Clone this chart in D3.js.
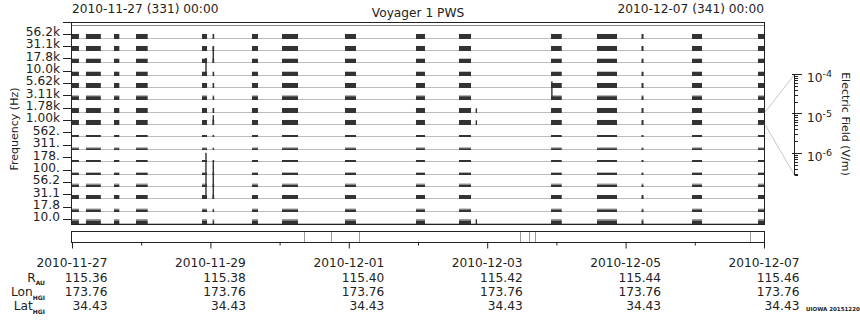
<!DOCTYPE html>
<html>
<head>
<meta charset="utf-8">
<script src="https://cdn.jsdelivr.net/npm/d3@7"></script>
<style>
  body { margin: 0; background: #fff; }
  svg { display: block; font-family: "DejaVu Sans", sans-serif; }
</style>
</head>
<body>
<svg id="chart" width="860" height="320"></svg>
<script>
// ---- data ----
const startTime = "2010-11-27T00:00Z";
const endTime = "2010-12-07T00:00Z";

// spectrum analyzer channels, top to bottom
const channels = ["56.2k", "31.1k", "17.8k", "10.0k", "5.62k", "3.11k", "1.78k", "1.00k",
  "562.", "311.", "178.", "100.", "56.2", "31.1", "17.8", "10.0"];
// typical field level per channel (V/m) and the lighter upper envelope
const chanLevel = [3.1e-6, 3.1e-6, 2.2e-6, 2.2e-6, 3.1e-6, 1.7e-6, 3.1e-6, 3.1e-6,
  7.4e-7, 6.5e-7, 7.4e-7, 7.4e-7, 8.6e-7, 1.9e-6, 9.4e-7, 1.5e-6];
const chanPeak = [3.1e-6, 3.1e-6, 2.2e-6, 2.2e-6, 3.1e-6, 2.7e-6, 3.1e-6, 3.1e-6,
  7.4e-7, 1.04e-6, 7.4e-7, 1.04e-6, 1.5e-6, 1.9e-6, 1.5e-6, 3.1e-6];

// tracking passes with data
const passStart = ["2010-11-27T00:00Z", "2010-11-27T04:50Z", "2010-11-27T14:34Z", "2010-11-27T22:12Z",
  "2010-11-28T21:05Z", "2010-11-29T00:45Z", "2010-11-29T14:25Z", "2010-11-30T00:50Z",
  "2010-11-30T22:41Z", "2010-12-01T23:18Z", "2010-12-02T14:13Z", "2010-12-03T22:08Z",
  "2010-12-04T14:05Z", "2010-12-05T05:31Z", "2010-12-05T23:02Z", "2010-12-06T21:55Z"];
const passEnd = ["2010-11-27T02:24Z", "2010-11-27T10:00Z", "2010-11-27T16:25Z", "2010-11-28T02:15Z",
  "2010-11-28T22:50Z", "2010-11-29T01:15Z", "2010-11-29T16:30Z", "2010-11-30T06:23Z",
  "2010-12-01T02:30Z", "2010-12-02T02:25Z", "2010-12-02T18:23Z", "2010-12-04T01:51Z",
  "2010-12-04T21:01Z", "2010-12-05T06:13Z", "2010-12-06T02:30Z", "2010-12-07T00:00Z"];

// single samples standing out
const spikeTime = ["2010-11-28T22:28Z", "2010-11-28T22:28Z", "2010-11-29T01:00Z", "2010-11-29T01:00Z",
  "2010-11-29T01:00Z", "2010-11-29T01:00Z", "2010-12-02T20:14Z", "2010-12-02T20:14Z",
  "2010-12-02T20:14Z", "2010-12-03T22:26Z"];
const spikeChan = [3, 13, 2, 7, 12, 13, 6, 7, 15, 5];
const spikeValue = [1.5e-3, 9e2, 5.6e-4, 2.9e-5, 4e-2, 8.5e-5, 2.7e-6, 2.7e-6, 2.7e-6, 2e-3];

// mode markers in the lower strip
const modeTimes = ["2010-11-30T08:28Z", "2010-11-30T18:10Z", "2010-12-01T03:53Z",
  "2010-12-03T11:28Z", "2010-12-03T14:36Z", "2010-12-03T16:41Z", "2010-12-06T19:24Z"];

// ephemeris
const ephemDates = ["2010-11-27", "2010-11-29", "2010-12-01", "2010-12-03", "2010-12-05", "2010-12-07"];
const rAU = ["115.36", "115.38", "115.40", "115.42", "115.44", "115.46"];
const lonHGI = ["173.76", "173.76", "173.76", "173.76", "173.76", "173.76"];
const latHGI = ["34.43", "34.43", "34.43", "34.43", "34.43", "34.43"];

const fieldMin = Math.pow(10, -6.54);
const fieldMax = 1e-4;
const legendTicks = [1e-4, 1e-5, 1e-6];

// ---- layout ----
const svg = d3.select("#chart");
const plotL = 72, plotR = 764, plotT = 23, plotB = 224;
const fs = "12.2px";

const x = d3.scaleUtc()
  .domain([new Date(startTime), new Date(endTime)])
  .range([plotL, plotR]);

// strip boundaries: index 0 is the top edge, channel k sits on boundary k+1
const yStrip = d3.scaleLinear().domain([0, channels.length]).range([25.7, 223.5]);
const stripH = yStrip(1) - yStrip(0);
const amp = d3.scaleLog().domain([fieldMin, fieldMax]).range([0, stripH]);
const base = k => yStrip(k + 1);
const crisp = v => Math.floor(v) + 0.5;

// grey baselines
const grid = svg.append("g");
d3.range(channels.length + 1).forEach(k => {
  grid.append("line")
    .attr("x1", plotL).attr("x2", plotR)
    .attr("y1", crisp(yStrip(k))).attr("y2", crisp(yStrip(k)))
    .attr("stroke", k === 0 ? "#8a8a8a" : "#bdbdbd")
    .attr("stroke-width", 1);
});

// data bars
const bars = svg.append("g");
channels.forEach((c, k) => {
  const y0 = crisp(base(k)) + 0.5;
  passStart.forEach((s, i) => {
    const x0 = x(new Date(s));
    const w = Math.max(x(new Date(passEnd[i])) - x0, 1.6);
    const hp = amp(chanPeak[k]);
    const h = amp(chanLevel[k]);
    if (hp > h) {
      bars.append("rect")
        .attr("x", x0).attr("width", w)
        .attr("y", y0 - hp).attr("height", hp - h)
        .attr("fill", "#9a9a9a");
    }
    bars.append("rect")
      .attr("x", x0).attr("width", w)
      .attr("y", y0 - h).attr("height", h)
      .attr("fill", "#333");
  });
});

spikeTime.forEach((t, i) => {
  const k = spikeChan[i];
  const y0 = crisp(base(k)) + 0.5;
  const h = amp(spikeValue[i]);
  bars.append("rect")
    .attr("x", x(new Date(t)) - 0.7).attr("width", 1.4)
    .attr("y", y0 - h).attr("height", h)
    .attr("fill", "#333");
});

// frame
svg.append("rect")
  .attr("x", plotL - 0.5).attr("y", plotT - 0.5)
  .attr("width", plotR - plotL + 1).attr("height", plotB - plotT + 1)
  .attr("fill", "none").attr("stroke", "#222").attr("stroke-width", 1);

// left axis
const yAxis = svg.append("g");
yAxis.append("line")
  .attr("x1", plotL - 9).attr("x2", plotL)
  .attr("y1", plotT - 0.5).attr("y2", plotT - 0.5)
  .attr("stroke", "#222");
channels.forEach((c, k) => {
  const ty = crisp(base(k) - 4);
  yAxis.append("line")
    .attr("x1", plotL - 9).attr("x2", plotL)
    .attr("y1", ty).attr("y2", ty)
    .attr("stroke", "#222");
  yAxis.append("text")
    .attr("x", 60).attr("y", base(k) - 6.5)
    .attr("dy", "0.36em")
    .attr("text-anchor", "end")
    .attr("font-size", fs)
    .attr("fill", "#222")
    .text(c);
});
svg.append("text")
  .attr("transform", "translate(14,129) rotate(-90)")
  .attr("text-anchor", "middle").attr("dy", "0.36em")
  .attr("font-size", "11px").attr("fill", "#222")
  .text("Frequency (Hz)");

// titles
svg.append("text").attr("x", plotL).attr("y", 8.3).attr("dy", "0.36em")
  .attr("font-size", fs).attr("fill", "#222")
  .text("2010-11-27 (331) 00:00");
svg.append("text").attr("x", plotR).attr("y", 8.3).attr("dy", "0.36em")
  .attr("text-anchor", "end")
  .attr("font-size", fs).attr("fill", "#222")
  .text("2010-12-07 (341) 00:00");
svg.append("text").attr("x", (plotL + plotR) / 2).attr("y", 12.3).attr("dy", "0.36em")
  .attr("text-anchor", "middle")
  .attr("font-size", fs).attr("fill", "#222")
  .text("Voyager 1 PWS");

// right-hand field scale
const leg = d3.scaleLog().domain([fieldMin, fieldMax]).range([175, 74.3]);
const legX = 794.5;
const fan = svg.append("g");
fan.append("line")
  .attr("x1", plotR + 1).attr("y1", base(7) - stripH)
  .attr("x2", legX).attr("y2", leg(fieldMax))
  .attr("stroke", "#c8c8c8");
fan.append("line")
  .attr("x1", plotR + 1).attr("y1", base(7))
  .attr("x2", legX).attr("y2", leg(fieldMin))
  .attr("stroke", "#c8c8c8");

const legAxis = svg.append("g");
legAxis.append("line")
  .attr("x1", legX).attr("x2", legX)
  .attr("y1", leg(fieldMax)).attr("y2", leg(fieldMin))
  .attr("stroke", "#222");
const minor = [];
[-7, -6, -5].forEach(e => {
  d3.range(2, 10).forEach(m => {
    const v = m * Math.pow(10, e);
    if (v > fieldMin && v < fieldMax) minor.push(v);
  });
});
minor.concat([fieldMin]).forEach(v => {
  legAxis.append("line")
    .attr("x1", legX).attr("x2", legX + 3.5)
    .attr("y1", crisp(leg(v))).attr("y2", crisp(leg(v)))
    .attr("stroke", "#222");
});
legendTicks.forEach(v => {
  const ty = crisp(leg(v));
  legAxis.append("line")
    .attr("x1", legX - 2.5).attr("x2", legX + 7.5)
    .attr("y1", ty).attr("y2", ty)
    .attr("stroke", "#222");
  const t = legAxis.append("text")
    .attr("x", 807).attr("y", leg(v) + 3.4).attr("dy", "0.36em")
    .attr("font-size", fs).attr("fill", "#222");
  t.append("tspan").text("10");
  t.append("tspan").attr("dy", "-0.55em").attr("font-size", "9.5px")
    .text(String(Math.round(Math.log10(v))));
});
svg.append("text")
  .attr("transform", "translate(846,124) rotate(90)")
  .attr("text-anchor", "middle").attr("dy", "0.36em")
  .attr("font-size", "11px").attr("fill", "#222")
  .text("Electric Field (V/m)");

// lower mode strip
const strip = svg.append("g");
modeTimes.forEach(t => {
  const mx = crisp(x(new Date(t)));
  strip.append("line")
    .attr("x1", mx).attr("x2", mx)
    .attr("y1", 231.5).attr("y2", 242.5)
    .attr("stroke", "#9a9a9a");
});
strip.append("rect")
  .attr("x", plotL - 0.5).attr("y", 231.5)
  .attr("width", plotR - plotL + 1).attr("height", 11)
  .attr("fill", "none").attr("stroke", "#222");

// time axis: majors every two days, minors in between
const majorTicks = ephemDates.map(d => new Date(d + "T00:00Z"));
const minorTicks = d3.utcDay.range(new Date(startTime), new Date(endTime))
  .filter((d, i) => i % 2 === 1);
const axMajor = svg.append("g").attr("transform", "translate(0,242.5)")
  .call(d3.axisBottom(x).tickValues(majorTicks).tickSize(6).tickFormat(""));
const axMinor = svg.append("g").attr("transform", "translate(0,242.5)")
  .call(d3.axisBottom(x).tickValues(minorTicks).tickSize(3).tickFormat(""));
[axMajor, axMinor].forEach(a => {
  a.select(".domain").remove();
  a.selectAll("line").attr("stroke", "#222");
});

// ephemeris table
const eph = svg.append("g").attr("font-size", fs).attr("fill", "#222");
majorTicks.forEach((d, i) => {
  const tx = x(d);
  eph.append("text").attr("x", tx).attr("y", 262.7).attr("dy", "0.36em")
    .attr("text-anchor", "middle").text(ephemDates[i]);
  [[rAU, 277.3], [lonHGI, 291.7], [latHGI, 306]].forEach(([arr, ry]) => {
    eph.append("text").attr("x", tx + 35.5).attr("y", ry).attr("dy", "0.36em")
      .attr("text-anchor", "end").text(arr[i]);
  });
});
[["R", "AU", 277.3], ["Lon", "HGI", 291.7], ["Lat", "HGI", 306]].forEach(([main, sub, ry]) => {
  const t = eph.append("text").attr("x", 45).attr("y", ry).attr("dy", "0.36em")
    .attr("text-anchor", "end");
  t.append("tspan").text(main);
  t.append("tspan").attr("dy", "3.5").attr("font-size", "6px").attr("font-weight", "bold").text(sub);
});

svg.append("text").attr("x", 806).attr("y", 309.3).attr("dy", "0.36em")
  .attr("font-size", "5.5px").attr("font-weight", "bold").attr("fill", "#222")
  .text("UIOWA 20151220");
</script>
</body>
</html>
